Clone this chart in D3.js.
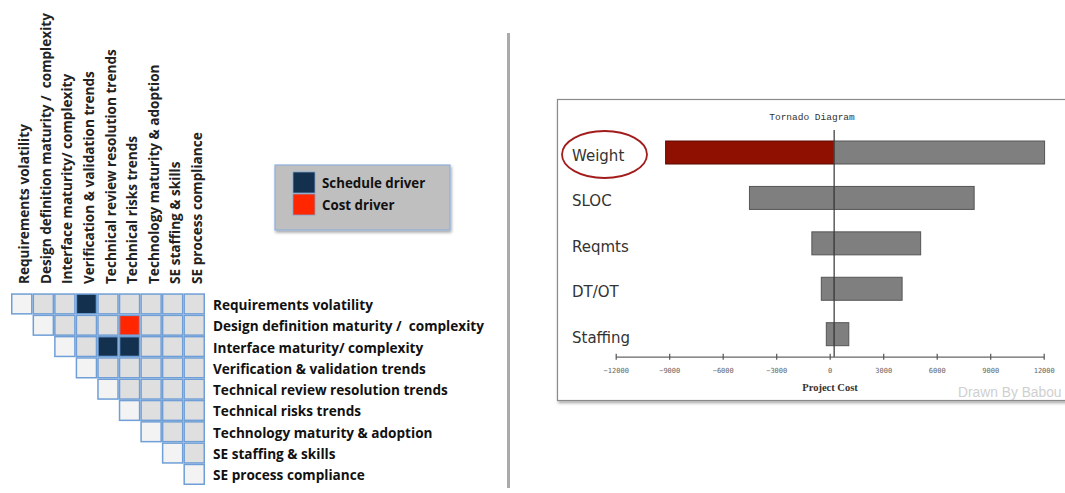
<!DOCTYPE html>
<html><head><meta charset="utf-8">
<script src="https://cdn.jsdelivr.net/npm/d3@7/dist/d3.min.js"></script>
<style>html,body{margin:0;padding:0;background:#fff;overflow:hidden} text{white-space:pre}</style>
</head><body>
<svg id="chart" width="1065" height="493"></svg>
<script>
// ---------- DATA ----------
const dsmFactors = [
  "Requirements volatility",
  "Design definition maturity /  complexity",
  "Interface maturity/ complexity",
  "Verification & validation trends",
  "Technical review resolution trends",
  "Technical risks trends",
  "Technology maturity & adoption",
  "SE staffing & skills",
  "SE process compliance"
];
const driverRows = [0, 1, 2, 2];
const driverCols = [3, 5, 4, 5];
const driverTypes = ["schedule", "cost", "schedule", "schedule"];
const legendLabels = ["Schedule driver", "Cost driver"];
const legendTypes = ["schedule", "cost"];

const tornadoFactors = ["Weight", "SLOC", "Reqmts", "DT/OT", "Staffing"];
const lowValues  = [-9200, -4500, -1000, -470, -190];
const highValues = [12050, 8100, 5100, 4060, 1070];
const baseValue = 250;
const tickValues = [-12000, -9000, -6000, -3000, 0, 3000, 6000, 9000, 12000];

// ---------- SETUP ----------
const svg = d3.select("#chart");
const typeColor = {schedule: "#13304f", cost: "#ff2600"};
const cellStroke = "#6f9fd6";

const defs = svg.append("defs");
const sh = defs.append("filter").attr("id","shadow").attr("x","-10%").attr("y","-10%").attr("width","130%").attr("height","140%");
sh.append("feDropShadow").attr("dx",1).attr("dy",2).attr("stdDeviation",1.5).attr("flood-color","#000").attr("flood-opacity",0.35);

// ---------- DSM ----------
const n = dsmFactors.length;
const xCell = d3.scaleBand().domain(d3.range(n)).range([11, 205]);
const yCell = d3.scaleBand().domain(d3.range(n)).range([293.3, 485]);

const cells = [];
for (let i = 0; i < n; i++) for (let j = i; j < n; j++) {
  let t = i === j ? "diag" : "off";
  for (let k = 0; k < driverRows.length; k++)
    if (driverRows[k] === i && driverCols[k] === j) t = driverTypes[k];
  cells.push({i, j, t});
}
const fillFor = t => t === "diag" ? "#f3f3f3" : t === "off" ? "#dfdfdf" : typeColor[t];

const dsm = svg.append("g");
dsm.selectAll("rect.cell").data(cells).join("rect")
  .attr("class","cell")
  .attr("x", d => xCell(d.j) + 0.75)
  .attr("y", d => yCell(d.i) + 0.75)
  .attr("width", xCell.bandwidth() - 1.5)
  .attr("height", yCell.bandwidth() - 1.5)
  .attr("fill", d => fillFor(d.t))
  .attr("stroke", cellStroke)
  .attr("stroke-width", 1.5);

const labelFont = "'Open Sans', Lato, sans-serif";
const labelSize = 13.6;
dsm.selectAll("text.row").data(dsmFactors).join("text")
  .attr("class","row")
  .attr("x", 213)
  .attr("y", (d, i) => yCell(i) + yCell.bandwidth() / 2 + 0.5)
  .attr("dominant-baseline","central")
  .attr("font-family", labelFont)
  .attr("font-weight", 700)
  .attr("font-size", labelSize)
  .attr("fill", "#111")
  .text(d => d);

dsm.selectAll("text.col").data(dsmFactors).join("text")
  .attr("class","col")
  .attr("transform", (d, i) => `translate(${xCell(i) + xCell.bandwidth() / 2 + 2},284) rotate(-90)`)
  .attr("dominant-baseline","central")
  .attr("font-family", labelFont)
  .attr("font-weight", 700)
  .attr("font-size", labelSize)
  .attr("fill", "#222")
  .text(d => d);

// legend
const lg = svg.append("g");
lg.append("rect").attr("x",275).attr("y",165).attr("width",175).attr("height",65)
  .attr("fill","#bfbfbf").attr("stroke","#8fb0da").attr("stroke-width",1.2).attr("filter","url(#shadow)");
const yLeg = d3.scaleBand().domain(legendTypes).range([171.5, 215.5]);
lg.selectAll("rect.sw").data(legendTypes).join("rect")
  .attr("class","sw")
  .attr("x", 293).attr("y", d => yLeg(d) + 0.5)
  .attr("width", 22).attr("height", yLeg.bandwidth() - 1)
  .attr("fill", d => typeColor[d])
  .attr("stroke", "#7ea3cf").attr("stroke-width", 0.8);
lg.selectAll("text").data(legendTypes).join("text")
  .attr("x", 322).attr("y", (d) => yLeg(d) + yLeg.bandwidth() / 2)
  .attr("dominant-baseline","central")
  .attr("font-family", labelFont).attr("font-weight", 700).attr("font-size", 13.3)
  .attr("fill","#111")
  .text((d, i) => legendLabels[i]);

// separator
svg.append("line").attr("x1",508.5).attr("x2",508.5).attr("y1",33).attr("y2",488)
  .attr("stroke","#aaaaaa").attr("stroke-width",3);

// ---------- TORNADO ----------
const tg = svg.append("g");
tg.append("rect").attr("x",557.5).attr("y",99.5).attr("width",520).attr("height",301)
  .attr("fill","#fff").attr("stroke","#8a8a8a").attr("stroke-width",1.2).attr("filter","url(#shadow)");

tg.append("text").attr("x", 812).attr("y", 117).attr("text-anchor","middle")
  .attr("dominant-baseline","central")
  .attr("font-family","'Liberation Mono', 'DejaVu Sans Mono', monospace").attr("font-size", 9.5)
  .attr("fill","#333").text("Tornado Diagram");

const x = d3.scaleLinear().domain([-12000, 12000]).range([615.7, 1043.7]);
const y = d3.scalePoint().domain(tornadoFactors).range([129.8, 356.9]).padding(0.5);
const barH = 23;

const rows = tornadoFactors.map((f, i) => ({f, lo: lowValues[i], hi: highValues[i], i}));

// low side
tg.selectAll("rect.lo").data(rows).join("rect")
  .attr("class","lo")
  .attr("x", d => x(d.lo)).attr("y", d => y(d.f) - barH / 2)
  .attr("width", d => x(baseValue) - x(d.lo)).attr("height", barH)
  .attr("fill", d => d.i === 0 ? "#8f1000" : "#7f7f7f")
  .attr("stroke", d => d.i === 0 ? "#5a0a00" : "#555").attr("stroke-width", 1);
// high side
tg.selectAll("rect.hi").data(rows).join("rect")
  .attr("class","hi")
  .attr("x", x(baseValue)).attr("y", d => y(d.f) - barH / 2)
  .attr("width", d => x(d.hi) - x(baseValue)).attr("height", barH)
  .attr("fill", "#7f7f7f")
  .attr("stroke", "#555").attr("stroke-width", 1);

// center line
tg.append("line").attr("x1", x(baseValue)).attr("x2", x(baseValue))
  .attr("y1", 130).attr("y2", 357).attr("stroke","#444").attr("stroke-width",1.3);

// labels
tg.selectAll("text.lab").data(tornadoFactors).join("text")
  .attr("class","lab")
  .attr("x", 572).attr("y", d => y(d) + 3.5)
  .attr("dominant-baseline","central")
  .attr("font-family","'DejaVu Sans', Verdana, sans-serif").attr("font-size", 15)
  .attr("fill","#333").text(d => d);

// ellipse highlight
tg.append("ellipse").attr("cx", 604.5).attr("cy", y("Weight") + 2).attr("rx", 42.5).attr("ry", 23.5)
  .attr("fill","none").attr("stroke","#a31c1c").attr("stroke-width",1.8);

// axis
const axis = d3.axisBottom(x).tickValues(tickValues).tickSize(0).tickPadding(11)
  .tickFormat(d3.format("d"));
const ag = tg.append("g").attr("transform","translate(0,356.7)").call(axis);
ag.select(".domain").attr("stroke","#666").attr("stroke-width",1.3);
ag.selectAll(".tick text").attr("font-family","'DejaVu Sans Mono', monospace").attr("font-size",7).attr("fill","#666");
ag.selectAll(".tick").append("line").attr("y1",-3).attr("y2",3).attr("stroke","#555").attr("stroke-width",1.2);

tg.append("text").attr("x", 830).attr("y", 387).attr("text-anchor","middle")
  .attr("dominant-baseline","central")
  .attr("font-family","'Liberation Serif', serif").attr("font-weight",700).attr("font-size",10.5)
  .attr("fill","#333").text("Project Cost");

tg.append("text").attr("x", 958).attr("y", 392).attr("dominant-baseline","central")
  .attr("font-family","'Liberation Sans', Arial, sans-serif").attr("font-size",13.8)
  .attr("fill","#cfcfcf").text("Drawn By Babou");
</script>
</body></html>
